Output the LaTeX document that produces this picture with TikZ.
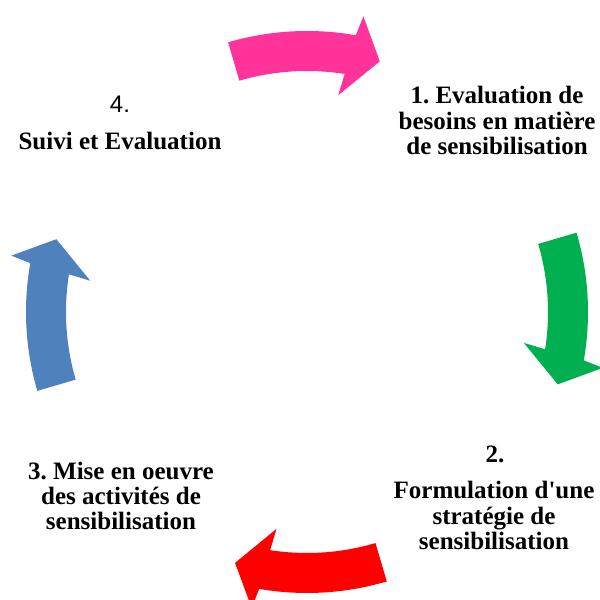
\documentclass[tikz,border=0pt]{standalone}
\usepackage{fontspec}
\setmainfont{Liberation Serif}
\newfontfamily\numbersans{Liberation Sans}
\usetikzlibrary{calc}

\definecolor{cyclepink}{RGB}{255,51,153}
\definecolor{cyclegreen}{RGB}{0,176,80}
\definecolor{cyclered}{RGB}{255,0,0}
\definecolor{cycleblue}{RGB}{79,129,189}

% curved block arrow on the ring: #1 = tail angle, #2 = colour
\newcommand\cyclearrow[2]{%
  \fill[#2] ({#1}:281pt)
    arc[start angle={#1}, end angle={#1-26.3}, radius=281pt]
    -- ({#1-27.1}:301pt) -- ({#1-32.5}:261pt) -- ({#1-24.5}:219pt)
    -- ({#1-25.3}:241pt)
    arc[start angle={#1-25.3}, end angle={#1}, radius=241pt] -- cycle;}

% multi-line labels sit on the baseline of their last line
\tikzset{
  steptext/.style={font=\bfseries\frenchspacing\fontsize{25}{25.5}\selectfont,
    align=center, inner sep=0pt, anchor=base},
  stepnumber/.style={font=\numbersans\fontsize{24}{24}\selectfont,
    inner sep=0pt, anchor=base}
}

\begin{document}
\begin{tikzpicture}
\useasboundingbox (0,0) rectangle (600pt,600pt);
\clip (0,0) rectangle (600pt,600pt);

% the four arrows of the cycle
\begin{scope}[shift={(307pt,288pt)}]
  \cyclearrow{106.3}{cyclepink}
  \cyclearrow{16.4}{cyclegreen}
  \cyclearrow{-73.5}{cyclered}
  \cyclearrow{196.3}{cycleblue}
\end{scope}

% step labels
\node[steptext] (s1) at (497pt,445pt) {1. Evaluation de\\besoins en matière\\de sensibilisation};
\node[steptext] (n2) at (495pt,137pt) {2.};
\node[steptext] (s2) at (494pt,50pt) {Formulation d\textquotesingle une\\stratégie de\\sensibilisation};
\node[steptext] (s3) at (121pt,70pt) {3. Mise en oeuvre\\des activités de\\sensibilisation};
\node[stepnumber] (n4) at (120pt,487pt) {4.};
\node[steptext] (s4) at (120pt,450pt) {Suivi et Evaluation};
\end{tikzpicture}
\end{document}
